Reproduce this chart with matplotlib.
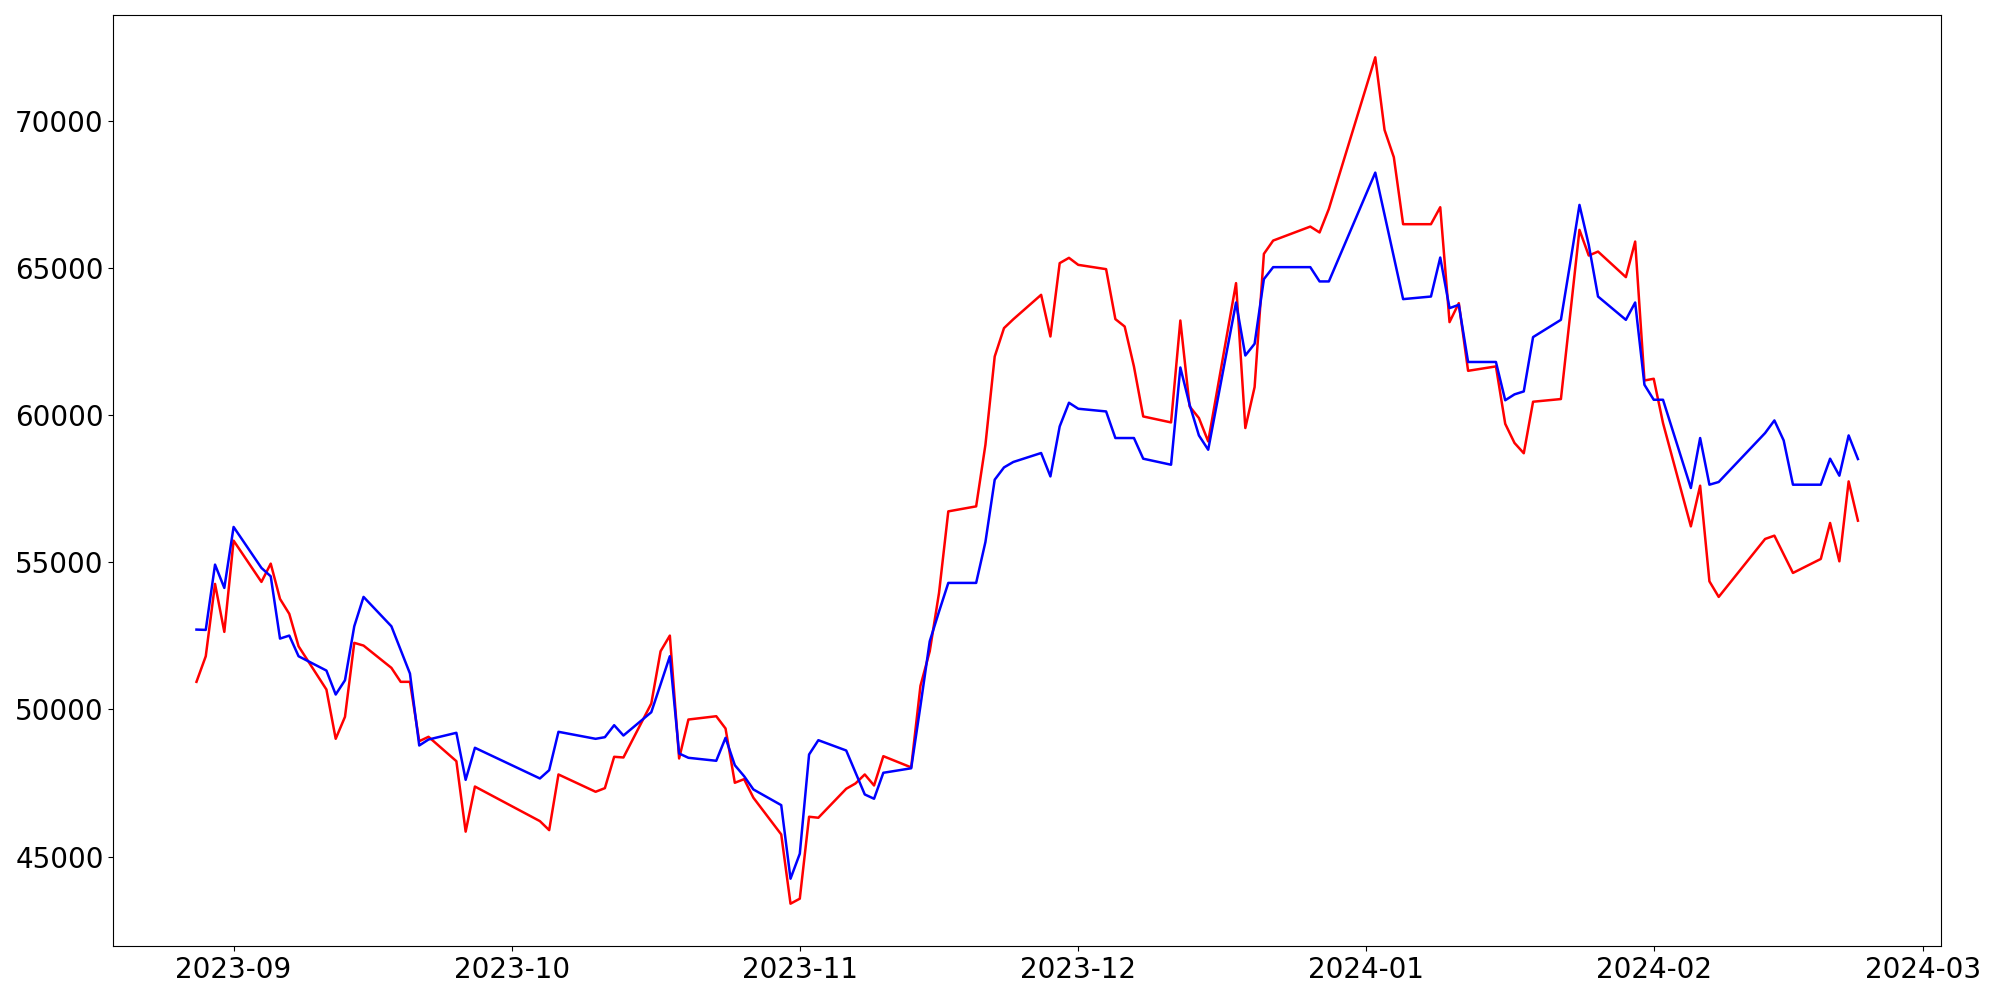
import matplotlib
matplotlib.use("Agg")
import matplotlib.pyplot as plt
import pandas as pd

# KRX trading days, 2023-08-28 .. 2024-02-23
start_date = "2023-08-28"
end_date = "2024-02-23"
holidays = ["2023-09-28", "2023-09-29", "2023-10-02", "2023-10-03", "2023-10-09",
            "2023-12-25", "2023-12-29", "2024-01-01", "2024-02-09", "2024-02-12"]

red_values = [
    50936, 51805, 54262, 52633,                                  # Aug 28-31
    55732, 54330, 54951, 53753, 53244, 52144, 50675, 49001, 49748, 52260,
    52168, 51411, 50936, 50936, 48920, 49069, 48241, 45848, 47380,  # Sep
    46205, 45899, 47790, 47202, 47325, 48390, 48367, 50199, 51974, 52507,
    48333, 49656, 49768, 49351, 47508, 47630, 47000, 45753, 43401,  # Oct
    43571, 46354, 46320, 47304, 47484, 47790, 47416, 48411, 48030, 50800,
    51974, 53957, 56726, 56896, 58990, 61987, 62950, 63250, 64081, 62666,
    65157, 65337,                                                # Nov
    65099, 64953, 63256, 63005, 61647, 59950, 59747, 63209, 60290, 59896,
    59102, 64478, 59557, 60948, 65472, 65924, 66399, 66199, 67000,  # Dec
    72148, 69681, 68754, 66480, 66480, 67057, 63154, 63799, 61500, 61650,
    59700, 59050, 58700, 60450, 60541, 63412, 66287, 65415, 65550, 64682,
    65890, 61172,                                                # Jan
    61230, 59726, 56217, 57598, 54350, 53821, 55789, 55901, 55267, 54635,
    55110, 56332, 55029, 57744, 56410,                           # Feb
]

blue_values = [
    52711, 52700, 54917, 54126,                                  # Aug 28-31
    56197, 54805, 54520, 52405, 52507, 51805, 51319, 50505, 50990, 52823,
    53821, 52823, 52020, 51217, 48774, 48977, 49205, 47608, 48696,  # Sep
    47654, 47936, 49239, 49001, 49056, 49463, 49113, 49904, 50850, 51805,
    48502, 48356, 48255, 49035, 48105, 47732, 47281, 46748, 44250,  # Oct
    45098, 48468, 48954, 48604, 47858, 47111, 46965, 47847, 48000, 50121,
    52314, 53322, 54296, 54296, 55687, 57802, 58219, 58403, 58708, 57914,
    59611, 60415,                                                # Nov
    60212, 60120, 59217, 59217, 59217, 58515, 58310, 61613, 60347, 59305,
    58820, 63820, 62021, 62418, 64614, 65021, 65021, 64536, 64536,  # Dec
    68232, 66800, 65367, 63935, 64023, 65347, 63629, 63741, 61800, 61800,
    60500, 60700, 60800, 62645, 63232, 65157, 67135, 65778, 64023, 63232,
    63820, 61026,                                                # Jan
    60517, 60517, 57520, 59217, 57632, 57724, 59387, 59815, 59136, 57632,
    57632, 58515, 57938, 59306, 58504,                           # Feb
]

dates = pd.bdate_range(start_date, end_date)
dates = dates[~dates.isin(pd.to_datetime(holidays))]
assert len(dates) == len(red_values) == len(blue_values), (len(dates), len(red_values), len(blue_values))

fig = plt.figure(figsize=(20, 10), dpi=100)
ax = fig.add_axes([0.0567, 0.054, 0.9138, 0.931])
ax.plot(dates, red_values, color="red", linewidth=1.8)
ax.plot(dates, blue_values, color="blue", linewidth=1.8)
ax.tick_params(axis="both", labelsize=20)
fig.savefig("out.png", dpi=100)
